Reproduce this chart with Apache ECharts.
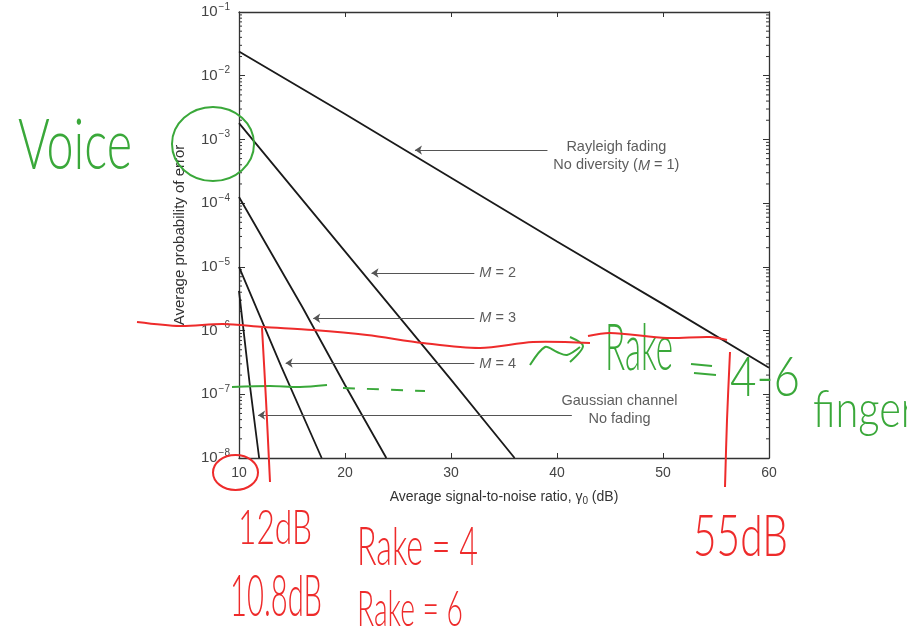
<!DOCTYPE html>
<html>
<head>
<meta charset="utf-8">
<script src="https://cdn.jsdelivr.net/npm/echarts@6/dist/echarts.min.js"></script>
<style>
  html, body { margin: 0; padding: 0; background: #fff; }
  #chart { width: 907px; height: 634px; }
</style>
</head>
<body>
<div id="chart"></div>
<script>
// average SNR (dB) and average bit error probability
const snrM1 = [10, 20, 30, 40, 50, 60]
const pbM1 = [2.4e-2, 2.5e-3, 2.5e-4, 2.5e-5, 2.6e-6, 2.6e-7]
const snrM2 = [10, 20, 30, 36]
const pbM2 = [1.8e-3, 1.75e-5, 1.7e-7, 1e-8]
const snrM3 = [10, 16, 20, 23.9]
const pbM3 = [1.25e-4, 2.3e-6, 1.4e-7, 1e-8]
const snrM4 = [10, 14, 17.8]
const pbM4 = [1.0e-5, 2.7e-7, 1e-8]
const snrAwgn = [10, 11, 11.9]
const pbAwgn = [4.2e-6, 1.5e-7, 1e-8]

const xTicks = [10, 20, 30, 40, 50, 60]
const yExponents = [-8, -7, -6, -5, -4, -3, -2, -1]

// arrow annotations (data coords)
const arrowPb = [6.8e-4, 8e-6, 1.56e-6, 3.1e-7, 4.7e-8]
const arrowTail = [39.1, 32.2, 32.2, 32.2, 41.4]
const arrowTip = [26.6, 22.5, 17.0, 14.4, 11.8]
const noteSnr = [45.6, 34.4, 34.4, 34.4, 45.9]
const notePb = [5.4e-4, 7.9e-6, 1.55e-6, 3.0e-7, 5.6e-8]
const noteText = [
  'Rayleigh fading\nNo diversity ({i|M} = 1)',
  '{i|M} = 2',
  '{i|M} = 3',
  '{i|M} = 4',
  'Gaussian channel\nNo fading'
]

const ink = '#1a1a1a'
const axisColor = '#333'
const red = '#ee2b2b'
const green = '#3aa83a'
const font = 'Liberation Sans, Arial, sans-serif'

const pairs = (xs, ys) => xs.map((x, i) => [x, ys[i]])

// log minor ticks 2..9 per decade
const minorTicks = []
for (let e = -8; e < -1; e++) {
  for (let k = 2; k <= 9; k++) minorTicks.push([10, k * Math.pow(10, e)])
}

function curve(name, xs, ys) {
  return {
    name: name,
    type: 'line',
    data: pairs(xs, ys),
    symbol: 'none',
    silent: true,
    lineStyle: { color: ink, width: 1.8 },
    z: 3
  }
}

// handwriting notes, squeezed to their box width
const measure = document.createElement('canvas').getContext('2d')
function scribble(text, x, y, w, size, color) {
  const f = '300 ' + size + 'px Lato, "Open Sans", sans-serif'
  measure.font = f
  const natural = measure.measureText(text).width
  return {
    type: 'text',
    x: x,
    y: y,
    scaleX: w / natural,
    z: 100,
    style: { text: text, font: f, fill: color, align: 'left', verticalAlign: 'middle' }
  }
}
function stroke(points, color, dash) {
  return {
    type: 'polyline',
    z: 100,
    shape: { points: points, smooth: 0.3 },
    style: { stroke: color, lineWidth: 2, fill: 'none', lineDash: dash || null }
  }
}

const chart = echarts.init(document.getElementById('chart'))

const yLabel = (v) => {
  const e = Math.round(Math.log10(v))
  return '{b|10}{s|−' + (-e) + '}'
}

chart.setOption({
  animation: false,
  backgroundColor: '#fff',
  grid: { left: 239, right: 138, top: 12, bottom: 176 },
  xAxis: [{
    type: 'value',
    min: xTicks[0],
    max: xTicks[xTicks.length - 1],
    interval: 10,
    position: 'bottom',
    axisLine: { lineStyle: { color: axisColor, width: 1.3 } },
    axisTick: { inside: true, length: 5, lineStyle: { color: axisColor } },
    axisLabel: { color: '#444', fontSize: 14, fontFamily: font, margin: 8 },
    splitLine: { show: false },
    name: '{n|Average signal-to-noise ratio, γ}{sub|0}{n| (dB)}',
    nameLocation: 'middle',
    nameGap: 30,
    nameTextStyle: {
      rich: {
        n: { fontSize: 14, color: '#333', fontFamily: font },
        sub: { fontSize: 10, color: '#333', fontFamily: font, padding: [8, 0, 0, 0] }
      }
    }
  }, {
    type: 'value',
    min: xTicks[0],
    max: xTicks[xTicks.length - 1],
    interval: 10,
    position: 'top',
    axisLine: { lineStyle: { color: axisColor, width: 1.3 } },
    axisTick: { inside: true, length: 5, lineStyle: { color: axisColor } },
    axisLabel: { show: false },
    splitLine: { show: false }
  }],
  yAxis: [{
    type: 'log',
    logBase: 10,
    min: Math.pow(10, yExponents[0]),
    max: Math.pow(10, yExponents[yExponents.length - 1]),
    interval: 1,
    position: 'left',
    axisLine: { lineStyle: { color: axisColor, width: 1.3 } },
    axisTick: { inside: true, length: 6, lineStyle: { color: axisColor } },
    axisLabel: {
      margin: 9,
      formatter: yLabel,
      rich: {
        b: { fontSize: 15, color: '#444', fontFamily: font },
        s: { fontSize: 10, color: '#444', fontFamily: font, padding: [0, 0, 10, 1] }
      }
    },
    splitLine: { show: false },
    name: 'Average probability of error',
    nameLocation: 'middle',
    nameGap: 52,
    nameTextStyle: { fontSize: 15, color: '#333', fontFamily: font }
  }, {
    type: 'log',
    logBase: 10,
    min: Math.pow(10, yExponents[0]),
    max: Math.pow(10, yExponents[yExponents.length - 1]),
    interval: 1,
    position: 'right',
    axisLine: { lineStyle: { color: axisColor, width: 1.3 } },
    axisTick: { inside: true, length: 6, lineStyle: { color: axisColor } },
    axisLabel: { show: false },
    splitLine: { show: false }
  }],
  series: [
    curve('M = 1', snrM1, pbM1),
    curve('M = 2', snrM2, pbM2),
    curve('M = 3', snrM3, pbM3),
    curve('M = 4', snrM4, pbM4),
    curve('Gaussian', snrAwgn, pbAwgn),
    {
      type: 'lines',
      coordinateSystem: 'cartesian2d',
      silent: true,
      symbol: ['none', 'arrow'],
      symbolSize: 7,
      lineStyle: { color: '#555', width: 1.1, opacity: 1 },
      data: arrowPb.map((p, i) => ({ coords: [[arrowTail[i], p], [arrowTip[i], p]] })),
      z: 4
    },
    {
      type: 'scatter',
      silent: true,
      symbolSize: 0,
      data: pairs(noteSnr, notePb),
      label: {
        show: true,
        position: 'inside',
        formatter: (p) => noteText[p.dataIndex],
        fontSize: 14.5,
        lineHeight: 18,
        color: '#333',
        fontFamily: font,
        align: 'center',
        rich: {
          i: { fontStyle: 'italic', fontSize: 14.5, color: '#333', fontFamily: font, lineHeight: 18 }
        }
      },
      z: 5
    },
    {
      type: 'custom',
      silent: true,
      data: minorTicks,
      renderItem: (params, api) => {
        const v = api.value(1)
        const l = api.coord([xTicks[0], v])
        const r = api.coord([xTicks[xTicks.length - 1], v])
        const st = { stroke: axisColor, lineWidth: 1 }
        return {
          type: 'group',
          children: [
            { type: 'line', shape: { x1: l[0], y1: l[1], x2: l[0] + 3, y2: l[1] }, style: st },
            { type: 'line', shape: { x1: r[0], y1: r[1], x2: r[0] - 3, y2: r[1] }, style: st }
          ]
        }
      },
      z: 2
    }
  ],
  graphic: [
    // green: voice circle and note
    { type: 'ellipse', z: 100, shape: { cx: 213, cy: 144, rx: 41, ry: 37 }, style: { fill: 'none', stroke: green, lineWidth: 2 } },
    scribble('Voice', 18, 146, 114, 70, green),
    stroke([[232, 387], [270, 386], [300, 387], [327, 385]], green),
    stroke([[343, 388], [425, 391]], green, [12, 12]),
    stroke([[530, 365], [545, 347], [557, 352], [567, 355], [580, 347]], green),
    stroke([[570, 337], [583, 346], [570, 362]], green),
    scribble('Rake', 605, 349, 68, 66, green),
    stroke([[691, 364], [712, 366]], green),
    stroke([[694, 373], [716, 375]], green),
    scribble('4-6', 730, 378, 70, 56, green),
    scribble('fingers', 813, 410, 120, 52, green),
    // red: 1e-6 target and readings
    stroke([[137, 322], [180, 326], [223, 324], [263, 327], [313, 330], [367, 335], [423, 343], [480, 348], [533, 342], [590, 343]], red),
    stroke([[588, 336], [610, 333], [667, 338], [710, 337], [727, 340]], red),
    stroke([[262, 328], [266, 400], [270, 482]], red),
    stroke([[730, 352], [727, 420], [725, 487]], red),
    { type: 'ellipse', z: 100, shape: { cx: 235.5, cy: 472.5, rx: 22.5, ry: 17.5 }, style: { fill: 'none', stroke: red, lineWidth: 2 } },
    scribble('12dB', 238, 529, 74, 48, red),
    scribble('Rake = 4', 357, 548, 121, 54, red),
    scribble('10.8dB', 230, 597, 92, 58, red),
    scribble('Rake = 6', 357, 610, 106, 50, red),
    scribble('55dB', 693, 537, 95, 58, red)
  ]
})
</script>
</body>
</html>
